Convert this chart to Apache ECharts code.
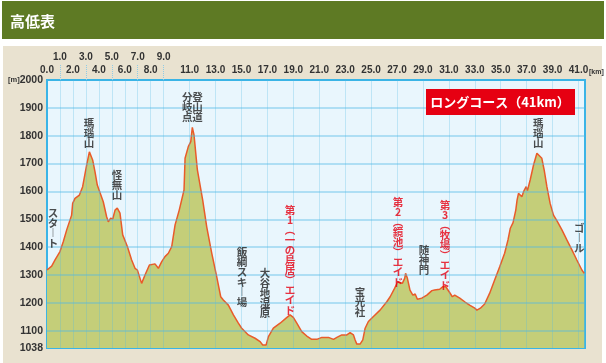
<!DOCTYPE html>
<html>
<head>
<meta charset="utf-8">
<script src="https://cdn.jsdelivr.net/npm/echarts@6/dist/echarts.min.js"></script>
<style>
html,body{margin:0;padding:0;background:#fff;}
#chart{width:606px;height:363px;}
</style>
</head>
<body>
<div id="chart"></div>
<script>
// ---- Data ----
const distanceKm = [0.0,0.36,0.62,1.0,1.26,1.52,1.9,1.98,2.16,2.5,2.75,3.06,3.27,3.52,3.7,3.88,4.34,4.6,4.73,4.91,5.07,5.25,5.42,5.63,5.84,6.2,6.53,6.79,6.97,7.3,7.56,7.9,8.33,8.59,8.85,9.1,9.36,9.62,9.88,10.2,10.57,10.65,10.9,11.09,11.21,11.34,11.6,12.01,12.32,12.71,13.09,13.4,13.6,13.99,14.38,14.76,15.02,15.53,16.05,16.44,16.64,16.9,17.08,17.46,17.98,18.44,18.75,19.0,19.27,19.65,20.04,20.42,20.81,21.2,21.71,22.1,22.36,22.74,23.13,23.38,23.64,23.77,23.9,24.15,24.36,24.54,24.79,25.18,25.69,26.21,26.47,26.81,27.07,27.2,27.41,27.59,27.66,27.8,28.0,28.22,28.4,28.57,28.91,29.3,29.69,29.9,30.29,30.54,30.76,31.02,31.27,31.45,31.58,31.84,32.22,32.6,33.0,33.16,33.43,33.76,34.14,34.53,34.92,35.3,35.56,35.74,35.95,36.16,36.26,36.37,36.63,36.76,36.96,37.06,37.27,37.53,37.79,37.91,38.17,38.35,38.56,38.81,39.07,39.33,39.72,40.1,40.49,40.87,41.26,41.44];
const elevationM = [1318,1332,1354,1384,1420,1462,1515,1557,1575,1587,1617,1695,1742,1713,1671,1623,1563,1509,1491,1504,1501,1533,1540,1522,1444,1402,1354,1324,1318,1270,1300,1336,1340,1324,1348,1366,1378,1402,1480,1533,1605,1719,1761,1779,1830,1803,1677,1569,1473,1378,1294,1222,1210,1192,1157,1127,1109,1085,1073,1061,1049,1049,1079,1109,1127,1145,1157,1148,1127,1097,1081,1069,1069,1076,1076,1069,1076,1085,1085,1093,1085,1067,1052,1052,1067,1109,1133,1151,1174,1204,1222,1252,1276,1282,1270,1288,1306,1288,1246,1228,1232,1213,1217,1228,1244,1246,1249,1258,1258,1240,1222,1228,1232,1217,1204,1192,1181,1174,1181,1196,1234,1282,1330,1378,1426,1468,1488,1533,1569,1593,1581,1599,1617,1603,1641,1695,1737,1737,1719,1677,1617,1557,1515,1495,1462,1426,1390,1354,1318,1306];

const xTicksLower = [0,2,4,6,8,11,13,15,17,19,21,23,25,27,29,31,33,35,37,39,41];
const xTicksUpper = [1,3,5,7,9];
const xGridKm = [1,2,3,4,5,6,7,8,9,11,13,15,17,19,21,23,25,27,29,31,33,35,37,39,41];
const yTicks = [1038,1100,1200,1300,1400,1500,1600,1700,1800,1900,2000];
const yGrid = [1100,1200,1300,1400,1500,1600,1700,1800,1900];

// point annotations: name, anchor km, anchor elevation (top of text), kind
const noteNames = ['瑪瑙山','怪無山','スタ︱ト','分岐点','登山道','飯綱スキ︱場','大谷地湿原','第1︵一の鳥居︶エイド','宝光社','第2︵鏡池︶エイド','随神門','第3︵牧場︶エイド','瑪瑙山','ゴ︱ル'];
const noteKm    = [3.24,5.40,0.46,10.82,11.6,15.05,16.82,18.75,24.15,27.08,29.09,30.71,37.89,41.05];
const noteElev  = [1864,1677,1541,1957,1957,1401,1325,1551,1257,1580,1408,1569,1864,1487];
const noteKind  = ['place','place','place','place','place','place','place','aid','place','aid','place','aid','place','place'];

const courseTitle = 'ロングコース（41km）';
const pageTitle = '高低表';

// ---- Chart ----
const chart = echarts.init(document.getElementById('chart'), null, {renderer:'canvas'});
const profile = distanceKm.map((d,i)=>[d, elevationM[i]]);
const JP = '"Noto Sans CJK JP", "Noto Sans", sans-serif';
const NUM = '"Liberation Sans", Arial, sans-serif';

const option = {
  animation: false,
  backgroundColor: '#ffffff',
  graphic: [
    {type:'rect', z:-20, shape:{x:2,y:1,width:602,height:38}, style:{fill:'#5e7a24'}},
    {type:'text', z:-19, style:{text:pageTitle, x:10, y:21, fill:'#ffffff', font:'bold 15px '+JP, verticalAlign:'middle'}},
    {type:'rect', z:-20, shape:{x:3,y:46,width:599,height:317}, style:{fill:'#e9e2d0'}},
    {type:'text', z:-19, style:{text:'[km]', x:589, y:72, fill:'#333', font:'bold 7px '+NUM, verticalAlign:'middle'}},
    {type:'rect', z:100, shape:{x:426,y:89,width:149,height:26}, style:{fill:'#e60012'}},
    {type:'text', z:101, style:{text:courseTitle, x:500, y:102.5, fill:'#ffffff', font:'bold 13px '+JP, align:'center', verticalAlign:'middle'}}
  ],
  grid: {left:47, right:21, top:80, bottom:15, show:true, backgroundColor:'#e9f6fd', borderColor:'#3ab4e6', borderWidth:2, z:0},
  xAxis: [
    {type:'value', position:'top', min:0, max:41.5, interval:1,
     axisLine:{show:false}, axisTick:{show:false}, splitLine:{show:false},
     axisLabel:{margin:5, color:'#333', fontSize:10, fontWeight:'bold', fontFamily:NUM,
       formatter: v => xTicksLower.includes(v) ? v.toFixed(1) : ''}},
    {type:'value', position:'top', min:0, max:41.5, interval:1,
     axisLine:{show:false}, splitLine:{show:false},
     axisTick:{show:true, customValues:xTicksUpper, length:16, lineStyle:{type:'dotted', color:'#8fcbe6', width:1}},
     axisLabel:{margin:18, color:'#333', fontSize:10, fontWeight:'bold', fontFamily:NUM,
       formatter: v => xTicksUpper.includes(v) ? v.toFixed(1) : ''}}
  ],
  yAxis: {type:'value', min:1038, max:2000,
    axisLine:{show:false}, axisTick:{show:false}, splitLine:{show:false},
    axisLabel:{customValues:yTicks, margin:4, color:'#333', fontSize:10.5, fontWeight:'bold', fontFamily:NUM,
      formatter: v => v === 2000 ? '{u|[m]}2000' : String(v),
      rich:{u:{fontSize:7.5, fontWeight:'bold', color:'#333', fontFamily:NUM}}}},
  series: [
    {type:'line', data:profile, xAxisIndex:0, symbol:'none', z:2,
     lineStyle:{width:0}, areaStyle:{color:'#c4ce79', opacity:1, origin:'start'}},
    {type:'line', data:[[0,1038]], xAxisIndex:0, symbol:'none', z:3, lineStyle:{width:0},
     markLine:{silent:true, symbol:['none','none'], label:{show:false}, animation:false,
       data: [
         ...yGrid.map(v=>({yAxis:v, lineStyle:{type:'solid', width:2, color:'rgba(80,185,230,0.38)'}})),
         ...xGridKm.map(v=>({xAxis:v, lineStyle:{type:'solid', width:1, color:'rgba(80,185,230,0.28)'}}))
       ]}},
    {type:'line', data:profile, xAxisIndex:0, symbol:'none', z:4,
     lineStyle:{width:1.5, color:'#e95b2a'}},
    {type:'scatter', xAxisIndex:0, symbolSize:0, z:5, silent:true,
     data: noteNames.map((n,i)=>({name:n, value:[noteKm[i], noteElev[i]],
       label:{color: noteKind[i]==='aid' ? '#e60012' : '#222'}})),
     label:{show:true, position:'bottom', distance:0, fontSize:10.5, lineHeight:10, fontWeight:'bold', fontFamily:JP,
       formatter: p => Array.from(p.name).join('\n')}}
  ]
};
chart.setOption(option);
</script>
</body>
</html>
